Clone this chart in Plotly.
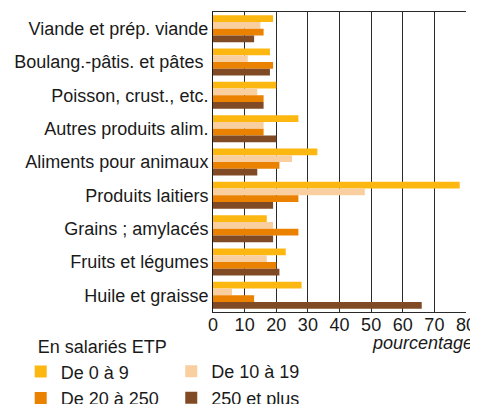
import plotly.graph_objects as go

categories = ["Viande et prép. viande", "Boulang.-pâtis. et pâtes ", "Poisson, crust., etc.",
              "Autres produits alim.", "Aliments pour animaux", "Produits laitiers",
              "Grains ; amylacés", "Fruits et légumes", "Huile et graisse"]
series_names = ["De 0 à 9", "De 10 à 19", "De 20 à 250", "250 et plus"]
v_0_9 = [19, 18, 20, 27, 33, 78, 17, 23, 28]
v_10_19 = [15, 11, 14, 16, 25, 48, 19, 17, 6]
v_20_250 = [16, 19, 16, 16, 21, 27, 27, 20, 13]
v_250 = [13, 18, 16, 20, 14, 19, 19, 21, 66]
colors = ["#FCB711", "#F9CF9F", "#EA8200", "#7F4A24"]
legend_ids = ["legend", "legend2", "legend", "legend2"]
tick_vals = [0, 10, 20, 30, 40, 50, 60, 70, 80]

fig = go.Figure()
for name, vals, col, lg in zip(series_names, [v_0_9, v_10_19, v_20_250, v_250], colors, legend_ids):
    fig.add_trace(go.Bar(y=categories, x=vals, name=name, orientation="h", legend=lg,
                         marker=dict(color=col, line=dict(width=0))))

# page body has an 8px margin, so the figure is 8px smaller than the window
fig.update_layout(
    width=470, height=396,
    margin=dict(l=205, r=12, t=4, b=92, autoexpand=False),
    barmode="group", bargap=0.19, bargroupgap=0,
    plot_bgcolor="white", paper_bgcolor="white",
    font=dict(family="Liberation Sans, Arial, sans-serif", size=18, color="#1a1a1a"),
    xaxis=dict(range=[0, 80], tickvals=tick_vals, showgrid=True, gridcolor="#2a2a2a",
               gridwidth=1, showline=True, linecolor="#2a2a2a", mirror=True,
               ticks="", tickfont=dict(size=18), ticklabelstandoff=-4,
               zeroline=False, fixedrange=True),
    yaxis=dict(autorange="reversed", showline=True, linecolor="#1a1a1a", mirror=False,
               ticks="", tickfont=dict(size=18), ticklabelstandoff=0),
    legend=dict(orientation="v", x=-0.76, xanchor="left", y=-0.06, yanchor="top",
                title=dict(text="\u00a0\u00a0\u00a0En salariés ETP", side="top", font=dict(size=18)),
                font=dict(size=18), traceorder="normal", itemwidth=30,
                tracegroupgap=0, bgcolor="rgba(0,0,0,0)"),
    legend2=dict(orientation="v", x=-0.165, xanchor="left", y=-0.137, yanchor="top",
                 font=dict(size=18), traceorder="normal", itemwidth=30,
                 tracegroupgap=0, bgcolor="rgba(0,0,0,0)"),
    showlegend=True,
)
fig.add_annotation(text="<i>pourcentage</i>", xref="paper", yref="paper", x=1.036, y=-0.104,
                   xanchor="right", yanchor="middle", showarrow=False, font=dict(size=18))
fig.write_html("out.html")
